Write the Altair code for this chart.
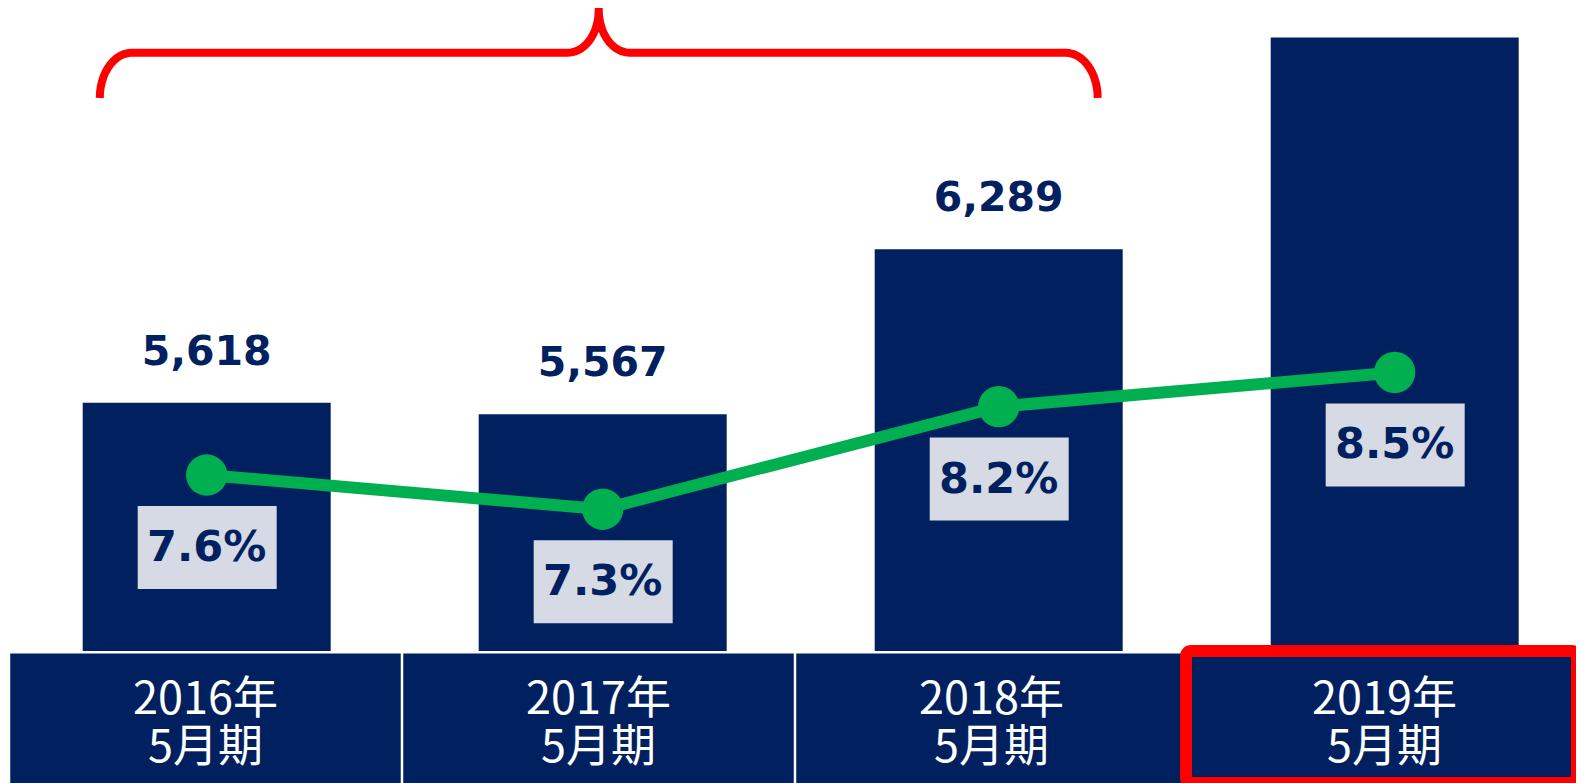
import altair as alt
import pandas as pd
import numpy as np

# ---- data ----
years = ["2016年", "2017年", "2018年", "2019年"]
periods = ["5月期", "5月期", "5月期", "5月期"]
sales = [5618, 5567, 6289, 7215]          # last value is cut off in the source
rates = [7.6, 7.3, 8.2, 8.5]

# ---- scale set-up ----
W, H = 1568, 775
BASE = 4532                                # value at the bar baseline
BAR_Y_DOMAIN = [3954.6, 7344.5]
RATE_DOMAIN = [4.898, 11.697]
BAR_X_DOMAIN = [-0.50177, 3.45783]
CELL_X_DOMAIN = [-0.50254, 3.48728]

NAVY = "#002060"
GREEN = "#00B050"
BOX = "#D5DAE4"
RED = "#FF0000"

df = pd.DataFrame({"idx": list(range(len(years))), "year": years, "period": periods,
                   "sales": sales, "rate": rates})
df["cat"] = df["year"] + "\n" + df["period"]
df["base"] = BASE


def brace(left, right, y_end, y_flat, y_neck, y_tip, rx_end, rx_mid, n=14):
    """Curly brace path (opening downward) in data units."""
    mid = (left + right) / 2
    t = np.linspace(0, np.pi / 2, n)
    xs, ys = [], []
    xs += list(left + rx_end - rx_end * np.cos(t)); ys += list(y_end + (y_flat - y_end) * np.sin(t))
    xs += list(mid - rx_mid + rx_mid * np.sin(t)); ys += list(y_neck - (y_neck - y_flat) * np.cos(t))
    xs += [mid]; ys += [y_tip]
    xs += list(mid + rx_mid - rx_mid * np.sin(t[::-1])); ys += list(y_neck - (y_neck - y_flat) * np.cos(t[::-1]))
    xs += list(right - rx_end + rx_end * np.cos(t[::-1])); ys += list(y_end + (y_flat - y_end) * np.sin(t[::-1]))
    return pd.DataFrame({"bx": xs, "by": ys, "o": range(len(xs))})


brace_df = brace(-0.27, 2.25, 6951, 7149, 7336, 7362, 0.081, 0.078)

xbar = alt.Scale(domain=BAR_X_DOMAIN, nice=False, zero=False, padding=0)
xcell = alt.Scale(domain=CELL_X_DOMAIN, nice=False, zero=False, padding=0)
ybar = alt.Scale(domain=BAR_Y_DOMAIN, nice=False, zero=False, padding=0)
yrate = alt.Scale(domain=RATE_DOMAIN, nice=False, zero=False, padding=0)

base = alt.Chart(df)

bars = base.mark_bar(size=248, color=NAVY, orient="vertical").encode(
    x=alt.X("idx:Q", scale=xbar, axis=None),
    y=alt.Y("sales:Q", scale=ybar, axis=None),
    y2="base:Q",
)

cells = base.mark_bar(size=390.5, color=NAVY, orient="vertical", yOffset=2.5).encode(
    x=alt.X("idx:Q", scale=xcell, axis=None),
    y=alt.Y("base:Q", scale=ybar, axis=None),
    y2=alt.value("height"),
)

red = base.transform_filter("datum.idx == 3").transform_calculate(
    lo="datum.idx - 0.5", hi="datum.idx + 0.5"
).mark_rect(fill=NAVY, stroke=RED, strokeWidth=12, cornerRadius=5,
            xOffset=-2, x2Offset=-4).encode(
    x=alt.X("lo:Q", scale=xcell, axis=None),
    x2="hi:Q",
    y=alt.Y("base:Q", scale=ybar, axis=None),
    y2=alt.value("height"),
)

cell_text = base.mark_text(color="white", font="Noto Sans CJK JP", fontSize=45,
                           lineBreak="\n", lineHeight=48, align="center",
                           baseline="alphabetic", dy=63).encode(
    x=alt.X("idx:Q", scale=xcell, axis=None),
    y=alt.Y("base:Q", scale=ybar, axis=None),
    text="cat:N",
)

line = base.mark_line(color=GREEN, strokeWidth=12).encode(
    x=alt.X("idx:Q", scale=xbar, axis=None),
    y=alt.Y("rate:Q", scale=yrate, axis=None),
)

points = base.mark_circle(color=GREEN, size=1710, opacity=1).encode(
    x=alt.X("idx:Q", scale=xbar, axis=None),
    y=alt.Y("rate:Q", scale=yrate, axis=None),
)

boxes = base.mark_rect(fill=BOX, xOffset=-69, x2Offset=70, yOffset=31, y2Offset=114).encode(
    x=alt.X("idx:Q", scale=xbar, axis=None),
    x2="idx:Q",
    y=alt.Y("rate:Q", scale=yrate, axis=None),
    y2="rate:Q",
)

box_text = base.transform_calculate(
    lbl="format(datum.rate, '.1f') + '%'"
).mark_text(color=NAVY, font="DejaVu Sans", fontWeight="bold", fontSize=43,
            align="center", baseline="alphabetic", dy=86).encode(
    x=alt.X("idx:Q", scale=xbar, axis=None),
    y=alt.Y("rate:Q", scale=yrate, axis=None),
    text="lbl:N",
)

values = base.mark_text(color=NAVY, font="DejaVu Sans", fontWeight="bold", fontSize=41,
                        align="center", baseline="alphabetic", dy=-38).encode(
    x=alt.X("idx:Q", scale=xbar, axis=None),
    y=alt.Y("sales:Q", scale=ybar, axis=None),
    text=alt.Text("sales:Q", format=","),
)

brace_line = alt.Chart(brace_df).mark_line(color=RED, strokeWidth=8, strokeJoin="round").encode(
    x=alt.X("bx:Q", scale=xbar, axis=None),
    y=alt.Y("by:Q", scale=ybar, axis=None),
    order="o:Q",
)

chart = alt.layer(
    bars, cells, red, cell_text, line, points, boxes, box_text, values, brace_line
).resolve_scale(x="independent", y="independent").properties(
    width=W, height=H, padding=0, autosize=alt.AutoSizeParams(type="none"),
    background="white",
).configure_view(stroke=None)

chart.save("out.html", embed_options={"renderer": "svg", "actions": False})
